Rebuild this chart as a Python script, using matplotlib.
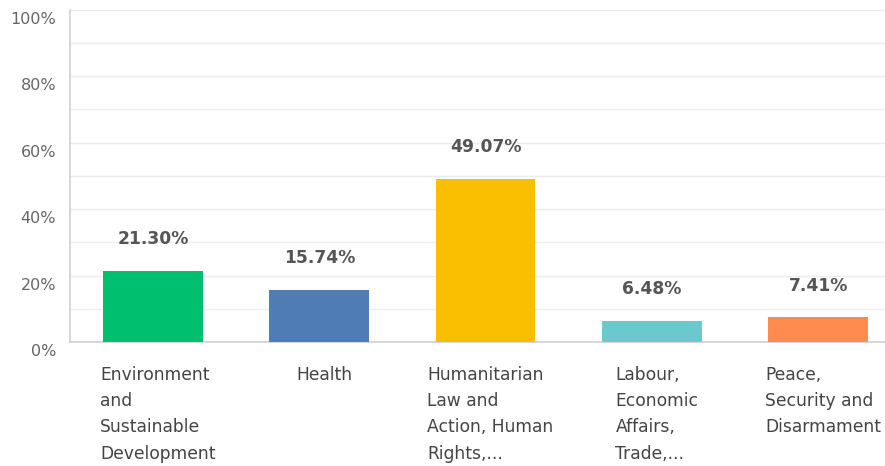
import numpy as np
import matplotlib.pyplot as plt
from matplotlib.transforms import ScaledTranslation

# answer choices and share of respondents
categories = ["Environment\nand\nSustainable\nDevelopment",
              "Health",
              "Humanitarian\nLaw and\nAction, Human\nRights,...",
              "Labour,\nEconomic\nAffairs,\nTrade,...",
              "Peace,\nSecurity and\nDisarmament"]
values = [21.30, 15.74, 49.07, 6.48, 7.41]
colors = ["#00BF6F", "#507CB6", "#F9BE00", "#6BC8CD", "#FF8B4F"]
yticks = [0, 20, 40, 60, 80, 100]

plt.rcParams['font.family'] = ['DejaVu Sans']

fig = plt.figure(figsize=(8.85, 4.66), dpi=100)
ax = fig.add_axes([0.079, 0.266, 0.93, 0.713])

x = np.arange(len(values))
ax.bar(x, values, width=0.6, color=colors, zorder=3)

# value labels above bars
for xi, v in zip(x, values):
    ax.text(xi, v + 9.6, "%.2f%%" % v, ha="center", va="center",
            fontsize=12.3, fontweight="bold", color="#555555")

ax.set_xlim(-0.5, 4.45)
ax.set_ylim(0, 100)

ax.set_yticks(yticks)
ax.set_yticklabels(["%d%%" % t for t in yticks])
ax.set_yticks(np.arange(10, 101, 10), minor=True)
ax.grid(True, axis="y", which="both", color="#ececec", lw=1, zorder=0)
ax.tick_params(axis="y", which="both", length=0, labelsize=11.5,
               labelcolor="#666666", pad=10)

# shift y labels a bit down like the original
for lab in ax.get_yticklabels():
    lab.set_transform(lab.get_transform() + ScaledTranslation(0, -0.08, fig.dpi_scale_trans))

ax.set_xticks(x)
ax.set_xticklabels(categories, multialignment="left", linespacing=1.6)
ax.tick_params(axis="x", length=0, labelsize=12.3, labelcolor="#444444", pad=17)
for lab in ax.get_xticklabels():
    lab.set_transform(lab.get_transform() + ScaledTranslation(0.05, 0, fig.dpi_scale_trans))

for s in ["top", "right"]:
    ax.spines[s].set_visible(False)
ax.spines["left"].set_color("#d0d0d0")
ax.spines["bottom"].set_color("#cfcfcf")
ax.spines["left"].set_linewidth(1.2)
ax.spines["bottom"].set_linewidth(1.2)

fig.savefig("out.png", dpi=100)
